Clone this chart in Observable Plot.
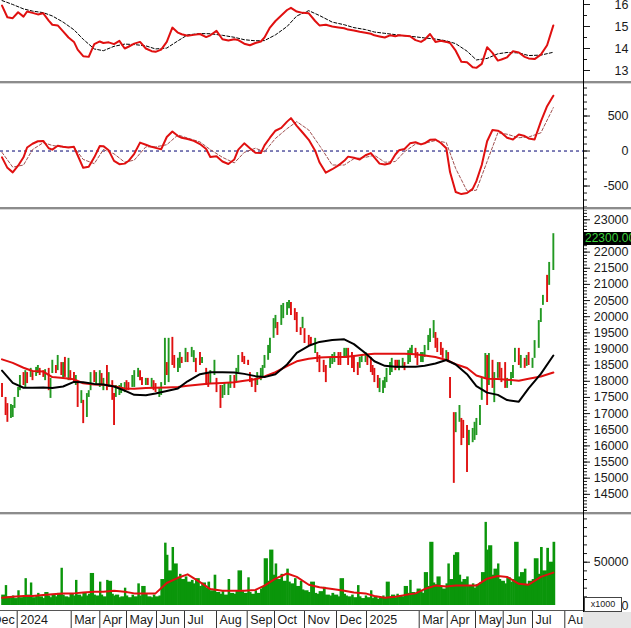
<!DOCTYPE html>
<html><head><meta charset="utf-8">
<script src="https://cdn.jsdelivr.net/npm/d3@7"></script>
<script src="https://cdn.jsdelivr.net/npm/@observablehq/plot@0.6"></script>
<style>
html,body{margin:0;padding:0;background:#fff;}
#chart{position:relative;width:631px;height:628px;overflow:hidden;font-family:"Liberation Sans",Arial,sans-serif;background:#fff;}
#chart svg{position:absolute;left:0;}
</style></head><body><div id="chart"></div>
<script>
// ---------- DATA ----------
const lastDate = "2025-07-21";
const lastClose = 22300;
// price bars, one every second session, in units of 10 VND
const lows = [
1750,1694,1673,1685,1688,1716,1750,1771,1787,1781,
1793,1812,1802,1815,1824,1818,1812,1802,1771,1747,
1824,1824,1833,1818,1809,1812,1802,1802,1793,1787,
1719,1731,1669,1688,1750,1771,1796,1787,1781,1787,
1771,1771,1781,1741,1663,1750,1756,1762,1765,1771,
1771,1781,1781,1812,1802,1787,1787,1787,1781,1771,
1765,1750,1756,1787,1818,1796,1849,1840,1827,1840,
1855,1858,1858,1874,1858,1827,1849,1855,1787,1781,
1790,1818,1765,1716,1747,1756,1756,1778,1778,1796,
1827,1858,1852,1849,1796,1781,1765,1787,1802,1812,
1840,1865,1886,1933,1963,1942,1973,1994,2004,2025,
2004,1988,1951,1942,1963,1917,1911,1911,1886,1858,
1827,1827,1796,1840,1852,1858,1849,1849,1871,1871,
1849,1840,1827,1818,1840,1858,1858,1849,1827,1818,
1796,1778,1765,1762,1778,1796,1818,1827,1833,1840,
1833,1840,1833,1852,1858,1880,1871,1849,1858,1858,
1874,1895,1920,1933,1902,1889,1880,1871,1865,1858,
1747,1484,1641,1673,1601,1623,1518,1601,1610,1617,
1632,1663,1741,1809,1725,1787,1778,1734,1809,1809,
1796,1778,1778,1787,1809,1858,1849,1840,1840,1846,
1849,1840,1871,1902,1982,2035,2044,2097,2143];
const highs = [
1793,1750,1731,1728,1725,1750,1781,1818,1827,1833,
1827,1840,1827,1843,1849,1840,1833,1836,1840,1809,
1865,1849,1880,1858,1858,1874,1871,1833,1827,1818,
1796,1771,1741,1762,1771,1827,1833,1827,1833,1824,
1809,1849,1827,1802,1762,1787,1787,1793,1796,1802,
1796,1818,1833,1840,1833,1812,1809,1809,1809,1802,
1793,1781,1796,1933,1858,1933,1936,1880,1871,1889,
1874,1902,1889,1905,1895,1871,1889,1874,1840,1824,
1833,1865,1809,1787,1787,1796,1796,1818,1818,1840,
1880,1889,1877,1865,1827,1809,1809,1827,1840,1849,
1880,1911,1933,1994,2004,1982,2035,2041,2044,2050,
2044,2025,2013,1966,1998,1963,1942,1936,1933,1889,
1880,1865,1849,1874,1883,1889,1889,1889,1902,1902,
1902,1889,1880,1858,1874,1880,1889,1880,1874,1849,
1840,1818,1809,1802,1812,1840,1858,1871,1865,1865,
1865,1871,1858,1895,1902,1911,1902,1889,1889,1889,
1911,1942,1963,1988,1951,1933,1920,1902,1895,1889,
1812,1703,1703,1725,1685,1679,1663,1648,1654,1673,
1685,1725,1809,1886,1880,1886,1865,1827,1858,1858,
1840,1858,1809,1827,1849,1902,1902,1880,1871,1880,
1889,1871,1926,1988,2025,2066,2128,2168,2257];
// session direction per bar: u = up, d = down (209 entries)
const sessionDir = (
"ddduuuuudu"+"duduuddudu"+"ududududdu"+"duduuuduud"+"ududduuuud"+
"duuuddudud"+"duuududduu"+"duduuddudd"+"uudduuuudu"+"udddddduuu"+
"uuuuuduuuu"+"ddddudddud"+"ddduuudduu"+"dddduuuddd"+"dduuuuuudd"+
"uuduuudduu"+"uuuuddddud"+"dduuddduuu"+"uuuududuud"+"dduuuududu"+"duuuuuduu").split("");
// volume, thousands of the axis unit (axis is x1000 shares)
const volumes = [
12,23,10,9,11,8,17,9,10,31, 12,26,9,11,14,10,8,15,11,9,
12,10,14,43,12,10,9,13,11,29, 12,10,14,11,13,37,12,11,27,12,
10,29,28,13,11,12,9,10,20,11, 9,12,10,25,11,22,13,10,9,12,
10,11,30,72,58,40,67,48,32,36, 30,33,27,29,25,31,22,26,20,27,
17,35,15,13,16,12,30,14,13,17, 40,16,14,32,15,13,17,14,19,22,
54,28,64,35,48,30,36,28,42,27, 25,31,22,28,18,17,15,27,14,13,
16,21,12,11,14,12,10,31,13,11, 10,12,9,23,10,8,11,9,17,8,
10,7,9,11,8,27,10,12,9,13, 11,10,22,14,29,15,13,19,16,14,
38,22,73,26,24,33,21,19,25,48, 30,58,61,35,27,30,33,22,25,20,
24,26,38,96,64,69,35,42,48,30, 28,25,32,27,30,73,33,38,42,24,
28,30,54,36,67,40,66,50,73];
// relative strength line (every 2nd bar) and its average (every 4th bar)
const rsLine = [
15.95,15.42,15.38,15.65,15.45,15.68,15.62,15.55,15.6,15.27,
15.08,15.05,14.78,14.5,14.3,13.95,13.65,13.62,14.2,14.32,
14.25,14.28,14.2,14.35,14.0,14.08,14.22,14.3,14.0,13.88,
13.85,13.95,14.3,14.95,14.72,14.65,14.58,14.62,14.66,14.52,
14.6,14.8,14.42,14.36,14.42,14.38,14.22,14.15,14.25,14.32,
14.5,14.95,15.25,15.5,15.75,15.85,15.68,15.62,15.6,15.25,
15.05,15.08,15.0,14.96,14.92,14.86,14.82,14.76,14.72,14.67,
14.6,14.55,14.5,14.6,14.56,14.6,14.58,14.56,14.38,14.3,
14.4,14.66,14.3,14.35,14.3,14.25,13.9,13.4,13.38,13.15,
13.12,13.3,14.06,13.8,13.45,13.5,13.6,13.88,13.82,13.62,
13.55,13.52,13.72,14.15,15.05];
const rsAvg = [
16.18,16.0,15.8,15.7,15.63,15.48,15.2,14.85,14.42,13.98,
13.9,14.1,14.2,14.18,14.12,13.98,14.02,14.35,14.62,14.68,
14.67,14.6,14.51,14.4,14.35,14.36,14.62,15.0,15.48,15.72,
15.5,15.2,15.08,14.95,14.86,14.75,14.69,14.63,14.58,14.53,
14.48,14.43,14.35,14.22,13.88,13.48,13.55,13.76,13.82,13.8,
13.68,13.7,13.83];
// MACD (every 2nd bar) and signal (every 4th bar)
const macdLine = [
-90,-240,-305,-210,-90,50,104,140,145,40,
20,75,60,50,60,-60,-240,-225,-90,71,
70,10,-140,-188,-180,-143,-40,120,90,60,
45,25,200,280,214,190,172,145,100,30,
-85,-75,-150,-185,-120,20,110,40,-24,-28,
80,190,290,330,420,470,360,265,160,5,
-160,-310,-260,-205,-140,-80,-95,-120,-60,-30,
-90,-180,-192,-175,-50,10,30,110,125,95,
110,160,165,115,40,-300,-585,-615,-600,-540,
-430,-200,140,300,290,262,190,165,235,215,
180,165,420,640,790];
const macdSignal = [
-20,-230,-200,20,120,80,55,55,-120,-180,
20,-40,-160,-130,60,60,90,230,185,130,
20,-90,-170,-20,40,-10,180,320,420,300,
80,-200,-200,-110,-90,-60,-160,-150,-10,100,
110,150,120,-250,-570,-560,-150,260,240,190,
200,260,620];
// price moving averages (every 4th bar, units of 10 VND)
const maFast = [
1833,1795,1780,1780,1781,1779,1784,1798,1797,1792,
1790,1784,1771,1758,1757,1762,1770,1778,1800,1822,
1828,1828,1827,1823,1816,1813,1822,1852,1888,1910,
1922,1928,1930,1915,1887,1862,1848,1845,1845,1845,
1848,1855,1866,1852,1822,1785,1765,1758,1742,1737,
1778,1823,1880];
const maSlow = [
1868,1857,1842,1832,1830,1813,1810,1806,1794,1790,
1789,1785,1778,1777,1779,1780,1781,1782,1786,1790,
1793,1795,1797,1802,1806,1815,1828,1847,1862,1870,
1874,1875,1875,1878,1883,1885,1885,1885,1885,1884,
1880,1875,1866,1853,1841,1818,1808,1807,1805,1802,
1808,1815,1827];
// volume average (every 4th bar, thousands of axis unit)
const volAvg = [
9,10,11,11,12,13,14,14,15,16,
16,17,16,14,14,14,26,32,36,27,
19,17,17,17,18,23,31,37,33,24,
21,19,17,15,14,11,9,10,12,14,
19,23,22,23,23,23,31,34,33,25,
24,33,38];
// tick labels
const monthLabels = [["2023-12-01","Dec"],["2024-01-01","2024"],["2024-03-01","Mar"],["2024-04-01","Apr"],["2024-05-01","May"],["2024-06-01","Jun"],["2024-07-01","Jul"],["2024-08-01","Aug"],["2024-09-01","Sep"],["2024-10-01","Oct"],["2024-11-01","Nov"],["2024-12-01","Dec"],["2025-01-01","2025"],["2025-03-01","Mar"],["2025-04-01","Apr"],["2025-05-01","May"],["2025-06-01","Jun"],["2025-07-01","Jul"],["2025-08-01","Aug"]];
const rsTicks = [13,14,15,16];
const macdTicks = [-500,0,500];
const priceTicks = [14500,15000,15500,16000,16500,17000,17500,18000,18500,19000,19500,20000,20500,21000,21500,22000,23000];
const priceTicksHidden = [22500];
const volTicks = [0,50000];

// ---------- LAYOUT ----------
const xBreaks = [["2023-12-01",-11],["2024-01-01",16.7],["2024-02-01",44.6],["2024-03-01",70.7],["2024-04-01",99.3],["2024-05-01",126],["2024-06-01",156],["2024-07-01",184],["2024-08-01",216],["2024-09-01",246.7],["2024-10-01",274],["2024-11-01",304],["2024-12-01",336],["2025-01-01",366],["2025-02-01",393],["2025-03-01",418.7],["2025-04-01",446.7],["2025-05-01",475],["2025-06-01",502.7],["2025-07-01",532],["2025-08-01",564.3]];
const W = 631, MR = 48;
const chart = document.getElementById("chart");

const end = new Date(lastDate);
const weekdays = d3.utcDays(new Date("2023-11-01"), d3.utcDay.offset(end, 1)).filter(d => d.getUTCDay() % 6 !== 0);
const everyOther = weekdays.filter((d, k) => (weekdays.length - 1 - k) % 2 === 0);
const dates = everyOther.slice(-lows.length);
const bars = lows.map((lo, i) => ({
  date: dates[i],
  next: i + 1 < dates.length ? dates[i + 1] : d3.utcDay.offset(dates[i], 2),
  low: lo * 10, high: highs[i] * 10, up: sessionDir[i] === "u", vol: volumes[i] * 1000}));
const sampled = (arr, s, f = 1) => arr.map((v, j) => ({date: dates[Math.min(j * s, dates.length - 1)], v: v * f}));

const xScale = {type: "utc", domain: xBreaks.map(b => new Date(b[0])), range: xBreaks.map(b => b[1]), axis: null};
const style = {fontSize: "12.5px", fontFamily: '"Liberation Sans", Arial, sans-serif', color: "#1a1a1a", background: "transparent", overflow: "visible"};
const RED = "#e01010", GREEN = "#229922";

function rightAxis(ticks, minor, hidden = []) {
  return [
    Plot.axisY({anchor: "right", ticks: minor, tickSize: 3, tickFormat: () => "", label: null}),
    Plot.axisY({anchor: "right", ticks: hidden, tickSize: 6, tickFormat: () => "", label: null}),
    Plot.axisY({anchor: "right", ticks, tickSize: 6, tickPadding: 39, textAnchor: "end", tickFormat: d => String(d), label: null})
  ];
}
function panel(top, height, yDomain, marks) {
  const svg = Plot.plot({width: W, height, marginLeft: 0, marginRight: MR, marginTop: 0, marginBottom: 0,
    x: xScale, y: {domain: yDomain, axis: null}, style, marks});
  svg.style.top = top + "px";
  chart.append(svg);
  return svg;
}

// Panel 1: relative strength
panel(0, 82, [12.455, 16.182], [
  Plot.line(sampled(rsAvg, 4), {x: "date", y: "v", stroke: "#000", strokeWidth: 1, strokeDasharray: "3,2"}),
  Plot.line(sampled(rsLine, 2), {x: "date", y: "v", stroke: RED, strokeWidth: 2}),
  ...rightAxis(rsTicks, [12.5, 13.5, 14.5, 15.5])
]);
// Panel 2: MACD
panel(82, 126, [-821, 979], [
  Plot.ruleY([0], {stroke: "#000070", strokeDasharray: "3,3", strokeWidth: 1}),
  Plot.line(sampled(macdSignal, 4), {x: "date", y: "v", stroke: "#a05050", strokeWidth: 1, strokeDasharray: "3,2"}),
  Plot.line(sampled(macdLine, 2), {x: "date", y: "v", stroke: RED, strokeWidth: 2}),
  ...rightAxis(macdTicks, d3.range(-800, 901, 100))
]);
// Panel 3: price
const pricePlot = panel(208, 305, [13907, 23350], [
  Plot.ruleX(bars.filter(d => d.up), {x: "date", y1: "low", y2: "high", stroke: GREEN, strokeWidth: 1.9}),
  Plot.ruleX(bars.filter(d => !d.up), {x: "date", y1: "low", y2: "high", stroke: RED, strokeWidth: 1.9}),
  Plot.line(sampled(maSlow, 4, 10), {x: "date", y: "v", stroke: RED, strokeWidth: 2}),
  Plot.line(sampled(maFast, 4, 10), {x: "date", y: "v", stroke: "#000", strokeWidth: 2}),
  ...rightAxis(priceTicks, d3.range(14000, 23301, 100), priceTicksHidden)
]);
// Panel 4: volume
panel(513, 98, [-6930, 106260], [
  Plot.rectY(bars, {x1: "date", x2: "next", y1: 0, y2: "vol", fill: "#0a960a", insetLeft: -0.3, insetRight: -0.3}),
  Plot.line(sampled(volAvg, 4, 1000), {x: "date", y: "v", stroke: RED, strokeWidth: 2}),
  ...rightAxis(volTicks, d3.range(0, 100001, 10000))
]);
// Bottom date axis
const axisSvg = Plot.plot({width: W, height: 17, marginLeft: 0, marginRight: MR, marginTop: 0, marginBottom: 0,
  x: xScale, style, marks: [
    Plot.ruleX(monthLabels, {x: d => new Date(d[0]), stroke: "#333", strokeWidth: 1}),
    Plot.text(monthLabels, {x: d => new Date(d[0]), text: d => d[1], dx: 3, textAnchor: "start", fill: "#1a1a1a", fontSize: 12.5})
  ]});
axisSvg.style.top = "611px";
chart.append(axisSvg);

// chrome: separators, axis line, boxes
function div(css, text) { const e = document.createElement("div"); e.style.cssText = "position:absolute;" + css; if (text != null) e.textContent = text; chart.append(e); return e; }
[81, 207, 512].forEach(y => { div(`left:0;top:${y}px;width:${W}px;height:2px;background:#8c8c8c;`); div(`left:0;top:${y+2}px;width:${W}px;height:1px;background:#d6d6d6;`); });
div(`left:0;top:610px;width:${W - MR}px;height:1px;background:#555;`);
div(`left:${W - MR}px;top:0;width:1px;height:612px;background:#000;`);
div(`left:${W - MR}px;top:612px;width:${MR}px;height:16px;background:#e6e6e6;`);
div(`left:${W - MR + 1}px;top:597px;width:36px;height:13px;border:1px solid #444;background:#fff;font-size:9px;line-height:13px;text-align:center;color:#222;`, "x1000");
const yLast = 208 + pricePlot.scale("y").apply(lastClose);
div(`left:${W - MR + 1}px;top:${Math.round(yLast - 10)}px;width:${MR + 8}px;height:13px;background:#000;color:#3ad23a;font-size:12px;line-height:13px;padding-left:1px;white-space:nowrap;`, lastClose.toFixed(2));
</script></body></html>
